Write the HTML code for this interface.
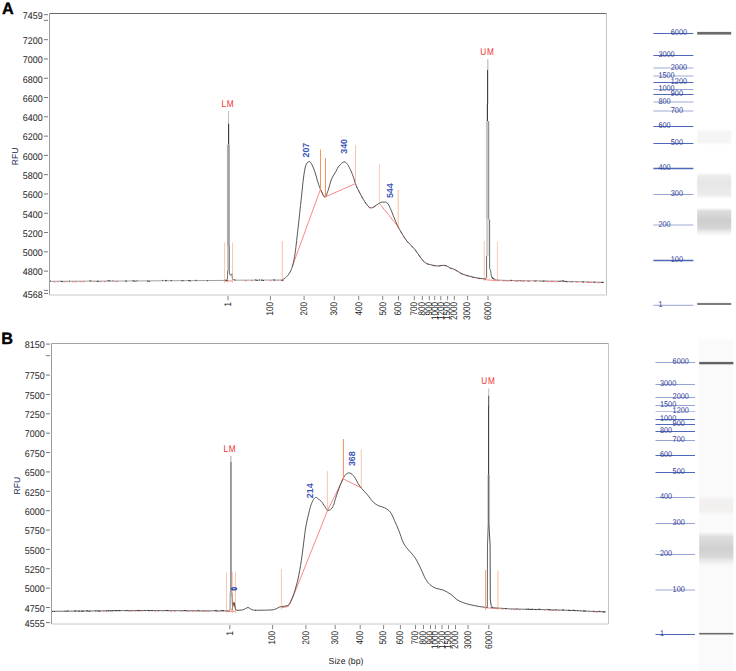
<!DOCTYPE html><html><head><meta charset="utf-8"><style>
html,body{margin:0;padding:0;background:#fff;}
body{width:736px;height:671px;overflow:hidden;position:relative;}
svg{position:absolute;left:0;top:0;display:block;}
text{font-family:"Liberation Sans", sans-serif;text-rendering:geometricPrecision;}
.yl{font-size:9.7px;fill:#222;}
.xl{font-size:9.6px;fill:#222;}
.rfu{font-size:8.6px;fill:#15234f;}
.pk{font-size:8.9px;font-weight:bold;fill:#3a54b8;}
.mk{font-size:9.8px;fill:#f03030;letter-spacing:0.9px;}
.gl{font-size:8.3px;fill:#2c3a94;}
.pl{font-size:16.3px;font-weight:bold;fill:#000;stroke:#000;stroke-width:0.35px;}
</style></head><body>
<svg width="736" height="671" viewBox="0 0 736 671">
<rect width="736" height="671" fill="#fff"/>
<text x="2.1" y="13.6" class="pl">A</text>
<text x="1.3" y="344.3" class="pl">B</text>
<line x1="49.5" y1="13.5" x2="606.5" y2="13.5" stroke="#6a6a6a" stroke-width="1.2"/>
<line x1="606.5" y1="13.5" x2="606.5" y2="295" stroke="#c4c4c4" stroke-width="1"/>
<line x1="49.5" y1="295" x2="606.5" y2="295" stroke="#c8c8c8" stroke-width="1"/>
<line x1="49.5" y1="13.5" x2="49.5" y2="295" stroke="#9c9c9c" stroke-width="1"/>
<line x1="43.9" y1="14.7" x2="48" y2="14.7" stroke="#666" stroke-width="0.9"/>
<text transform="translate(42.6 19) scale(0.92 1)" text-anchor="end" class="yl">7459</text>
<line x1="43.9" y1="39.68" x2="48" y2="39.68" stroke="#666" stroke-width="0.9"/>
<text transform="translate(42.6 43.98) scale(0.92 1)" text-anchor="end" class="yl">7200</text>
<line x1="43.9" y1="58.96" x2="48" y2="58.96" stroke="#666" stroke-width="0.9"/>
<text transform="translate(42.6 63.26) scale(0.92 1)" text-anchor="end" class="yl">7000</text>
<line x1="43.9" y1="78.25" x2="48" y2="78.25" stroke="#666" stroke-width="0.9"/>
<text transform="translate(42.6 82.55) scale(0.92 1)" text-anchor="end" class="yl">6800</text>
<line x1="43.9" y1="97.53" x2="48" y2="97.53" stroke="#666" stroke-width="0.9"/>
<text transform="translate(42.6 101.83) scale(0.92 1)" text-anchor="end" class="yl">6600</text>
<line x1="43.9" y1="116.82" x2="48" y2="116.82" stroke="#666" stroke-width="0.9"/>
<text transform="translate(42.6 121.12) scale(0.92 1)" text-anchor="end" class="yl">6400</text>
<line x1="43.9" y1="136.11" x2="48" y2="136.11" stroke="#666" stroke-width="0.9"/>
<text transform="translate(42.6 140.41) scale(0.92 1)" text-anchor="end" class="yl">6200</text>
<line x1="43.9" y1="155.39" x2="48" y2="155.39" stroke="#666" stroke-width="0.9"/>
<text transform="translate(42.6 159.69) scale(0.92 1)" text-anchor="end" class="yl">6000</text>
<line x1="43.9" y1="174.68" x2="48" y2="174.68" stroke="#666" stroke-width="0.9"/>
<text transform="translate(42.6 178.98) scale(0.92 1)" text-anchor="end" class="yl">5800</text>
<line x1="43.9" y1="193.96" x2="48" y2="193.96" stroke="#666" stroke-width="0.9"/>
<text transform="translate(42.6 198.26) scale(0.92 1)" text-anchor="end" class="yl">5600</text>
<line x1="43.9" y1="213.25" x2="48" y2="213.25" stroke="#666" stroke-width="0.9"/>
<text transform="translate(42.6 217.55) scale(0.92 1)" text-anchor="end" class="yl">5400</text>
<line x1="43.9" y1="232.54" x2="48" y2="232.54" stroke="#666" stroke-width="0.9"/>
<text transform="translate(42.6 236.84) scale(0.92 1)" text-anchor="end" class="yl">5200</text>
<line x1="43.9" y1="251.82" x2="48" y2="251.82" stroke="#666" stroke-width="0.9"/>
<text transform="translate(42.6 256.12) scale(0.92 1)" text-anchor="end" class="yl">5000</text>
<line x1="43.9" y1="271.11" x2="48" y2="271.11" stroke="#666" stroke-width="0.9"/>
<text transform="translate(42.6 275.41) scale(0.92 1)" text-anchor="end" class="yl">4800</text>
<line x1="43.9" y1="293.48" x2="48" y2="293.48" stroke="#666" stroke-width="0.9"/>
<text transform="translate(42.6 297.78) scale(0.92 1)" text-anchor="end" class="yl">4568</text>
<line x1="43.9" y1="20.39" x2="48" y2="20.39" stroke="#666" stroke-width="0.9"/>
<line x1="43.9" y1="290.39" x2="48" y2="290.39" stroke="#666" stroke-width="0.9"/>
<line x1="228" y1="296" x2="228" y2="300.2" stroke="#777" stroke-width="0.9"/>
<text transform="translate(230.8 302) rotate(-90) scale(0.845 1)" text-anchor="end" class="xl">1</text>
<line x1="270.4" y1="296" x2="270.4" y2="300.2" stroke="#777" stroke-width="0.9"/>
<text transform="translate(273.2 302) rotate(-90) scale(0.845 1)" text-anchor="end" class="xl">100</text>
<line x1="304.1" y1="296" x2="304.1" y2="300.2" stroke="#777" stroke-width="0.9"/>
<text transform="translate(306.9 302) rotate(-90) scale(0.845 1)" text-anchor="end" class="xl">200</text>
<line x1="334.3" y1="296" x2="334.3" y2="300.2" stroke="#777" stroke-width="0.9"/>
<text transform="translate(337.1 302) rotate(-90) scale(0.845 1)" text-anchor="end" class="xl">300</text>
<line x1="358.7" y1="296" x2="358.7" y2="300.2" stroke="#777" stroke-width="0.9"/>
<text transform="translate(361.5 302) rotate(-90) scale(0.845 1)" text-anchor="end" class="xl">400</text>
<line x1="382.7" y1="296" x2="382.7" y2="300.2" stroke="#777" stroke-width="0.9"/>
<text transform="translate(385.5 302) rotate(-90) scale(0.845 1)" text-anchor="end" class="xl">500</text>
<line x1="398.5" y1="296" x2="398.5" y2="300.2" stroke="#777" stroke-width="0.9"/>
<text transform="translate(401.3 302) rotate(-90) scale(0.845 1)" text-anchor="end" class="xl">600</text>
<line x1="414.3" y1="296" x2="414.3" y2="300.2" stroke="#777" stroke-width="0.9"/>
<text transform="translate(417.1 302) rotate(-90) scale(0.845 1)" text-anchor="end" class="xl">700</text>
<line x1="422.3" y1="296" x2="422.3" y2="300.2" stroke="#777" stroke-width="0.9"/>
<text transform="translate(425.1 302) rotate(-90) scale(0.845 1)" text-anchor="end" class="xl">800</text>
<line x1="429.3" y1="296" x2="429.3" y2="300.2" stroke="#777" stroke-width="0.9"/>
<text transform="translate(432.1 302) rotate(-90) scale(0.845 1)" text-anchor="end" class="xl">900</text>
<line x1="434.7" y1="296" x2="434.7" y2="300.2" stroke="#777" stroke-width="0.9"/>
<text transform="translate(437.5 302) rotate(-90) scale(0.845 1)" text-anchor="end" class="xl">1000</text>
<line x1="440.8" y1="296" x2="440.8" y2="300.2" stroke="#777" stroke-width="0.9"/>
<text transform="translate(443.6 302) rotate(-90) scale(0.845 1)" text-anchor="end" class="xl">1200</text>
<line x1="447.6" y1="296" x2="447.6" y2="300.2" stroke="#777" stroke-width="0.9"/>
<text transform="translate(450.4 302) rotate(-90) scale(0.845 1)" text-anchor="end" class="xl">1500</text>
<line x1="454.3" y1="296" x2="454.3" y2="300.2" stroke="#777" stroke-width="0.9"/>
<text transform="translate(457.1 302) rotate(-90) scale(0.845 1)" text-anchor="end" class="xl">2000</text>
<line x1="467.6" y1="296" x2="467.6" y2="300.2" stroke="#777" stroke-width="0.9"/>
<text transform="translate(470.4 302) rotate(-90) scale(0.845 1)" text-anchor="end" class="xl">3000</text>
<line x1="488" y1="296" x2="488" y2="300.2" stroke="#777" stroke-width="0.9"/>
<text transform="translate(490.8 302) rotate(-90) scale(0.845 1)" text-anchor="end" class="xl">6000</text>
<text transform="translate(17.8 156.5) rotate(-90)" text-anchor="middle" class="rfu">RFU</text>
<line x1="51.5" y1="343.5" x2="608.5" y2="343.5" stroke="#a2a2a2" stroke-width="1.2"/>
<line x1="608.5" y1="343.5" x2="608.5" y2="624" stroke="#c4c4c4" stroke-width="1"/>
<line x1="51.5" y1="624" x2="608.5" y2="624" stroke="#c8c8c8" stroke-width="1"/>
<line x1="51.5" y1="343.5" x2="51.5" y2="624" stroke="#9c9c9c" stroke-width="1"/>
<line x1="45.9" y1="344.1" x2="50" y2="344.1" stroke="#666" stroke-width="0.9"/>
<text transform="translate(44.6 348.4) scale(0.92 1)" text-anchor="end" class="yl">8150</text>
<line x1="45.9" y1="375.09" x2="50" y2="375.09" stroke="#666" stroke-width="0.9"/>
<text transform="translate(44.6 379.39) scale(0.92 1)" text-anchor="end" class="yl">7750</text>
<line x1="45.9" y1="394.46" x2="50" y2="394.46" stroke="#666" stroke-width="0.9"/>
<text transform="translate(44.6 398.76) scale(0.92 1)" text-anchor="end" class="yl">7500</text>
<line x1="45.9" y1="413.82" x2="50" y2="413.82" stroke="#666" stroke-width="0.9"/>
<text transform="translate(44.6 418.12) scale(0.92 1)" text-anchor="end" class="yl">7250</text>
<line x1="45.9" y1="433.19" x2="50" y2="433.19" stroke="#666" stroke-width="0.9"/>
<text transform="translate(44.6 437.49) scale(0.92 1)" text-anchor="end" class="yl">7000</text>
<line x1="45.9" y1="452.56" x2="50" y2="452.56" stroke="#666" stroke-width="0.9"/>
<text transform="translate(44.6 456.86) scale(0.92 1)" text-anchor="end" class="yl">6750</text>
<line x1="45.9" y1="471.93" x2="50" y2="471.93" stroke="#666" stroke-width="0.9"/>
<text transform="translate(44.6 476.23) scale(0.92 1)" text-anchor="end" class="yl">6500</text>
<line x1="45.9" y1="491.29" x2="50" y2="491.29" stroke="#666" stroke-width="0.9"/>
<text transform="translate(44.6 495.59) scale(0.92 1)" text-anchor="end" class="yl">6250</text>
<line x1="45.9" y1="510.66" x2="50" y2="510.66" stroke="#666" stroke-width="0.9"/>
<text transform="translate(44.6 514.96) scale(0.92 1)" text-anchor="end" class="yl">6000</text>
<line x1="45.9" y1="530.03" x2="50" y2="530.03" stroke="#666" stroke-width="0.9"/>
<text transform="translate(44.6 534.33) scale(0.92 1)" text-anchor="end" class="yl">5750</text>
<line x1="45.9" y1="549.4" x2="50" y2="549.4" stroke="#666" stroke-width="0.9"/>
<text transform="translate(44.6 553.7) scale(0.92 1)" text-anchor="end" class="yl">5500</text>
<line x1="45.9" y1="568.76" x2="50" y2="568.76" stroke="#666" stroke-width="0.9"/>
<text transform="translate(44.6 573.06) scale(0.92 1)" text-anchor="end" class="yl">5250</text>
<line x1="45.9" y1="588.13" x2="50" y2="588.13" stroke="#666" stroke-width="0.9"/>
<text transform="translate(44.6 592.43) scale(0.92 1)" text-anchor="end" class="yl">5000</text>
<line x1="45.9" y1="607.5" x2="50" y2="607.5" stroke="#666" stroke-width="0.9"/>
<text transform="translate(44.6 611.8) scale(0.92 1)" text-anchor="end" class="yl">4750</text>
<line x1="45.9" y1="622.6" x2="50" y2="622.6" stroke="#666" stroke-width="0.9"/>
<text transform="translate(44.6 626.9) scale(0.92 1)" text-anchor="end" class="yl">4555</text>
<line x1="45.9" y1="355.72" x2="50" y2="355.72" stroke="#666" stroke-width="0.9"/>
<line x1="229.8" y1="625" x2="229.8" y2="629.2" stroke="#777" stroke-width="0.9"/>
<text transform="translate(232.6 631) rotate(-90) scale(0.845 1)" text-anchor="end" class="xl">1</text>
<line x1="272.6" y1="625" x2="272.6" y2="629.2" stroke="#777" stroke-width="0.9"/>
<text transform="translate(275.4 631) rotate(-90) scale(0.845 1)" text-anchor="end" class="xl">100</text>
<line x1="305.9" y1="625" x2="305.9" y2="629.2" stroke="#777" stroke-width="0.9"/>
<text transform="translate(308.7 631) rotate(-90) scale(0.845 1)" text-anchor="end" class="xl">200</text>
<line x1="335.2" y1="625" x2="335.2" y2="629.2" stroke="#777" stroke-width="0.9"/>
<text transform="translate(338 631) rotate(-90) scale(0.845 1)" text-anchor="end" class="xl">300</text>
<line x1="360.2" y1="625" x2="360.2" y2="629.2" stroke="#777" stroke-width="0.9"/>
<text transform="translate(363 631) rotate(-90) scale(0.845 1)" text-anchor="end" class="xl">400</text>
<line x1="383.6" y1="625" x2="383.6" y2="629.2" stroke="#777" stroke-width="0.9"/>
<text transform="translate(386.4 631) rotate(-90) scale(0.845 1)" text-anchor="end" class="xl">500</text>
<line x1="400.4" y1="625" x2="400.4" y2="629.2" stroke="#777" stroke-width="0.9"/>
<text transform="translate(403.2 631) rotate(-90) scale(0.845 1)" text-anchor="end" class="xl">600</text>
<line x1="415.5" y1="625" x2="415.5" y2="629.2" stroke="#777" stroke-width="0.9"/>
<text transform="translate(418.3 631) rotate(-90) scale(0.845 1)" text-anchor="end" class="xl">700</text>
<line x1="423.5" y1="625" x2="423.5" y2="629.2" stroke="#777" stroke-width="0.9"/>
<text transform="translate(426.3 631) rotate(-90) scale(0.845 1)" text-anchor="end" class="xl">800</text>
<line x1="430.5" y1="625" x2="430.5" y2="629.2" stroke="#777" stroke-width="0.9"/>
<text transform="translate(433.3 631) rotate(-90) scale(0.845 1)" text-anchor="end" class="xl">900</text>
<line x1="435.4" y1="625" x2="435.4" y2="629.2" stroke="#777" stroke-width="0.9"/>
<text transform="translate(438.2 631) rotate(-90) scale(0.845 1)" text-anchor="end" class="xl">1000</text>
<line x1="442" y1="625" x2="442" y2="629.2" stroke="#777" stroke-width="0.9"/>
<text transform="translate(444.8 631) rotate(-90) scale(0.845 1)" text-anchor="end" class="xl">1200</text>
<line x1="448.5" y1="625" x2="448.5" y2="629.2" stroke="#777" stroke-width="0.9"/>
<text transform="translate(451.3 631) rotate(-90) scale(0.845 1)" text-anchor="end" class="xl">1500</text>
<line x1="455.5" y1="625" x2="455.5" y2="629.2" stroke="#777" stroke-width="0.9"/>
<text transform="translate(458.3 631) rotate(-90) scale(0.845 1)" text-anchor="end" class="xl">2000</text>
<line x1="468" y1="625" x2="468" y2="629.2" stroke="#777" stroke-width="0.9"/>
<text transform="translate(470.8 631) rotate(-90) scale(0.845 1)" text-anchor="end" class="xl">3000</text>
<line x1="488.8" y1="625" x2="488.8" y2="629.2" stroke="#777" stroke-width="0.9"/>
<text transform="translate(491.6 631) rotate(-90) scale(0.845 1)" text-anchor="end" class="xl">6000</text>
<text transform="translate(20 485.6) rotate(-90)" text-anchor="middle" class="rfu">RFU</text>
<text x="346" y="664.3" text-anchor="middle" style="font-size:8.7px;fill:#222">Size (bp)</text>
<g fill="none" stroke="#f55050" stroke-width="0.75" opacity="0.9">
<polyline points="224.6,281 232.4,281"/>
<polyline points="292.3,266.5 320.3,189.7 324.8,197.1 355.2,183.7"/>
<polyline points="379.4,203.4 398,226.6"/>
<polyline points="484.4,279.6 497.4,280.8"/>
</g>
<g fill="none" stroke="#f55050" stroke-width="0.9" stroke-dasharray="2.5 3.5" opacity="0.85" transform="translate(0 0.35)">
<path d="M356.1 185.5 C356.62 186.53 357.95 189.32 359.2 191.7 C360.45 194.08 362.12 197.4 363.6 199.8 C365.08 202.2 366.75 204.75 368.1 206.1 C369.45 207.45 370.35 208.05 371.7 207.9 C373.05 207.75 375.45 205.65 376.2 205.2"/>
<path d="M397.6 225.7 C398.35 227.05 400.57 231.27 402.1 233.8 C403.63 236.33 405.18 238.85 406.8 240.9 C408.42 242.95 410.28 244.45 411.8 246.1 C413.32 247.75 414.65 249.22 415.9 250.8 C417.15 252.38 418.17 254.02 419.3 255.6 C420.43 257.18 421.47 258.98 422.7 260.3 C423.93 261.62 425.12 262.7 426.7 263.5 C428.28 264.3 430.38 264.68 432.2 265.1 C434.02 265.52 436.13 265.93 437.6 266 C439.07 266.07 439.63 265.58 441 265.5 C442.37 265.42 444.33 265.12 445.8 265.5 C447.27 265.88 448.22 267.08 449.8 267.8 C451.38 268.52 453.25 268.78 455.3 269.8 C457.35 270.82 459.83 272.87 462.1 273.9 C464.37 274.93 466.63 275.37 468.9 276 C471.17 276.63 473.22 277.23 475.7 277.7 C478.18 278.17 482.12 278.65 483.8 278.8 C485.48 278.95 485.47 278.63 485.8 278.6"/>
<polyline points="491.7,277.7 494.5,279.3 497.4,280 505,280.4 560,281.2 604,282.3"/>
</g>
<g fill="none" stroke="#383838" stroke-width="0.85" stroke-linejoin="round">
<path d="M282.2 280 C282.95 279.43 285.2 278.3 286.7 276.6 C288.2 274.9 289.88 273.17 291.2 269.8 C292.52 266.43 293.48 263.12 294.6 256.4 C295.72 249.68 296.78 239.2 297.9 229.5 C299.02 219.8 300.37 206.78 301.3 198.2 C302.23 189.62 302.77 183.42 303.5 178 C304.23 172.58 304.83 168.42 305.7 165.7 C306.57 162.98 307.77 162.07 308.7 161.7 C309.63 161.33 310.3 161.9 311.3 163.5 C312.3 165.1 313.58 168.13 314.7 171.3 C315.82 174.47 317 179.43 318 182.5 C319 185.57 319.57 187.27 320.7 189.7 C321.83 192.13 323.57 196.98 324.8 197.1 C326.03 197.22 326.98 193.38 328.1 190.4 C329.22 187.42 330.18 182.38 331.5 179.2 C332.82 176.02 334.75 173.5 336 171.3 C337.25 169.1 337.68 167.57 339 166 C340.32 164.43 342.48 162.17 343.9 161.9 C345.32 161.63 346.3 162.85 347.5 164.4 C348.7 165.95 350.05 168.88 351.1 171.2 C352.15 173.52 352.97 175.92 353.8 178.3 C354.63 180.68 355.2 183.27 356.1 185.5 C357 187.73 357.95 189.32 359.2 191.7 C360.45 194.08 362.12 197.4 363.6 199.8 C365.08 202.2 366.75 204.75 368.1 206.1 C369.45 207.45 370.35 208.05 371.7 207.9 C373.05 207.75 374.72 206.1 376.2 205.2 C377.68 204.3 379.27 203.02 380.6 202.5 C381.93 201.98 383.08 202.02 384.2 202.1 C385.32 202.18 386.25 201.9 387.3 203 C388.35 204.1 389.37 206.25 390.5 208.7 C391.63 211.15 392.92 214.87 394.1 217.7 C395.28 220.53 396.27 223.02 397.6 225.7 C398.93 228.38 400.57 231.27 402.1 233.8 C403.63 236.33 405.18 238.85 406.8 240.9 C408.42 242.95 410.28 244.45 411.8 246.1 C413.32 247.75 414.65 249.22 415.9 250.8 C417.15 252.38 418.17 254.02 419.3 255.6 C420.43 257.18 421.47 258.98 422.7 260.3 C423.93 261.62 425.12 262.7 426.7 263.5 C428.28 264.3 430.38 264.68 432.2 265.1 C434.02 265.52 436.13 265.93 437.6 266 C439.07 266.07 439.63 265.58 441 265.5 C442.37 265.42 444.33 265.12 445.8 265.5 C447.27 265.88 448.22 267.08 449.8 267.8 C451.38 268.52 453.25 268.78 455.3 269.8 C457.35 270.82 459.83 272.87 462.1 273.9 C464.37 274.93 466.63 275.37 468.9 276 C471.17 276.63 473.22 277.23 475.7 277.7 C478.18 278.17 482.12 278.65 483.8 278.8 C485.48 278.95 485.47 278.63 485.8 278.6"/>
</g>
<polyline fill="none" stroke="#8f8f8f" stroke-width="0.85" points="50,281.3 120,281 200,280.6 226.5,280.4"/>
<path fill="none" stroke="#f55050" stroke-width="0.8" opacity="0.75" d="M53 281.89 L55.5 281.88 M57.5 281.87 L58.5 281.86 M63.5 281.84 L65.5 281.83 M66.5 281.83 L67.5 281.83 M72 281.81 L74.5 281.8 M75 281.79 L77.5 281.78 M79.5 281.77 L81.5 281.77 M82.5 281.76 L85 281.75 M93.5 281.71 L95 281.71 M99.5 281.69 L102 281.68 M104 281.67 L106 281.66 M115 281.62 L118 281.61"/>
<path fill="none" stroke="#333" stroke-width="0.85" d="M50 281.3 L51 281 M60.5 281.25 L63 281.74 M69 281.52 L70 280.91 M89.5 280.63 L91.5 281.12 M96.5 281.4 L99 281.39 M107.5 280.55 L110.5 281.04 M112.5 281.03 L113.5 280.73 M125 281.28 L127 280.96 M132.5 280.64 L135.5 281.42 M136.5 280.92 L137.5 280.91 M147 281.17 L150 281.35 M162 280.29 L163 280.49 M165 280.48 L167 280.76 M170.5 280.45 L172 280.74 M181.5 280.69 L183.5 280.68 M188 280.36 L191 281.15 M195 280.12 L196.5 280.62 M207 280.55 L208 281.04 M225 279.91 L228 280.9"/>
<polyline fill="none" stroke="#8f8f8f" stroke-width="0.85" points="232.5,279.6 236,280.2 260,280.1 282.2,280"/>
<path fill="none" stroke="#f55050" stroke-width="0.8" opacity="0.75" d="M244.5 280.76 L247 280.75 M251 280.74 L253 280.73 M269.5 280.66 L271.5 280.65 M277.5 280.62 L279 280.61"/>
<path fill="none" stroke="#333" stroke-width="0.85" d="M234 279.86 L235.5 280.11 M255 279.82 L258 280.61 M259 279.8 L260 280.1 M261 280.1 L264 280.58 M273 279.74 L275.5 280.33 M281 280.31 L283.5 280.5"/>
<polyline fill="none" stroke="#8f8f8f" stroke-width="0.85" points="491.7,277.7 494.5,279.3 497.4,280 505,280.4 560,281.2 604,282.3"/>
<path fill="none" stroke="#f55050" stroke-width="0.8" opacity="0.75" d="M502.2 280.85 L503.7 280.93 M505.7 281.01 L508.7 281.05 M514.2 281.13 L515.2 281.15 M516.2 281.16 L519.2 281.21 M522.7 281.26 L525.2 281.29 M527.2 281.32 L530.2 281.37 M546.7 281.61 L548.7 281.64 M549.2 281.64 L552.2 281.69 M553.2 281.7 L555.2 281.73 M555.7 281.74 L557.2 281.76 M569.2 282.03 L570.2 282.06 M577.2 282.23 L578.7 282.27 M586.2 282.46 L588.7 282.52 M589.2 282.53 L592.2 282.61 M596.7 282.72 L599.7 282.79"/>
<path fill="none" stroke="#333" stroke-width="0.85" d="M491.7 277.4 L494.7 279.35 M510.7 280.18 L512.2 280.5 M519.7 280.61 L520.7 280.93 M535.2 280.84 L536.7 280.86 M542.2 281.24 L544.7 280.98 M558.7 281.18 L559.7 281.5 M560.2 281.2 L561.2 281.23 M561.7 280.74 L564.2 281 M564.7 281.32 L567.7 281.89 M571.7 281.79 L572.7 282.02 M582.7 281.77 L584.2 282.11 M593.7 282.04 L595.2 282.38 M601.2 282.53 L603.7 282.29"/>
<line x1="228.5" y1="111" x2="228.5" y2="124" stroke="#bdbdbd" stroke-width="1"/>
<line x1="228.6" y1="123.8" x2="228.6" y2="144.8" stroke="#333" stroke-width="1.1"/>
<rect x="226.9" y="144.6" width="3.1" height="101.6" fill="#b0b0b0"/>
<line x1="228.5" y1="144.6" x2="228.5" y2="246" stroke="#9c9c9c" stroke-width="0.8"/>
<rect x="227.2" y="246" width="1.6" height="25" fill="#bababa"/>
<polyline fill="none" stroke="#4a4a4a" stroke-width="0.8" points="229.3,246 229.3,273 230.4,275.3 231.9,273.8 232.3,278.3 233,279.8"/>
<polyline fill="none" stroke="#4a4a4a" stroke-width="0.8" points="226.4,280.3 227.5,279 227.6,270.8"/>
<line x1="487.8" y1="59.2" x2="487.8" y2="70" stroke="#bcbcbc" stroke-width="1.2"/>
<line x1="487.6" y1="69.9" x2="487.6" y2="104" stroke="#3a3a3a" stroke-width="1.1"/>
<line x1="487.4" y1="103.9" x2="487.4" y2="121.3" stroke="#333" stroke-width="1.1"/>
<rect x="485.9" y="121.1" width="2.1" height="98.5" fill="#c6c6c6"/>
<rect x="488" y="121.1" width="1.25" height="98.5" fill="#939393"/>
<rect x="486.2" y="219.6" width="2.4" height="36.1" fill="#cdcdcd"/>
<polyline fill="none" stroke="#444" stroke-width="0.8" points="489.6,219.6 489.6,268.4 490.7,270.9 491.3,276 492.5,278"/>
<polyline fill="none" stroke="#444" stroke-width="0.8" points="485.8,278.6 486.6,277.8 486.6,255.7"/>
<line x1="224.6" y1="242.6" x2="224.6" y2="282.8" stroke="#f5925e" stroke-width="1" opacity="0.5"/>
<line x1="232.5" y1="242.6" x2="232.5" y2="282.8" stroke="#f5925e" stroke-width="1" opacity="0.5"/>
<line x1="282.3" y1="241" x2="282.3" y2="281.5" stroke="#f5925e" stroke-width="1" opacity="0.55"/>
<line x1="320.5" y1="149.6" x2="320.5" y2="190" stroke="#f5925e" stroke-width="1" opacity="1"/>
<line x1="325.5" y1="157.8" x2="325.5" y2="197" stroke="#f5925e" stroke-width="1" opacity="1"/>
<line x1="355.5" y1="145.2" x2="355.5" y2="184" stroke="#f5925e" stroke-width="1" opacity="0.55"/>
<line x1="379.4" y1="164" x2="379.4" y2="202.8" stroke="#f5925e" stroke-width="1" opacity="0.45"/>
<line x1="398.2" y1="190" x2="398.2" y2="228.6" stroke="#f5925e" stroke-width="1" opacity="0.6"/>
<line x1="484.3" y1="240.9" x2="484.3" y2="281.2" stroke="#f5925e" stroke-width="1" opacity="0.5"/>
<line x1="497.4" y1="241.9" x2="497.4" y2="281.2" stroke="#f5925e" stroke-width="1" opacity="0.45"/>
<text transform="translate(228 106.9) scale(0.84 1)" text-anchor="middle" class="mk">LM</text>
<text transform="translate(487.4 55.3) scale(0.84 1)" text-anchor="middle" class="mk">UM</text>
<text transform="translate(309 150.1) rotate(-90)" text-anchor="middle" class="pk">207</text>
<text transform="translate(347.3 146.4) rotate(-90)" text-anchor="middle" class="pk">340</text>
<text transform="translate(393.4 190.7) rotate(-90)" text-anchor="middle" class="pk">544</text>
<g fill="none" stroke="#f55050" stroke-width="0.75" opacity="0.9">
<polyline points="226.5,611.3 235.5,611.3"/>
<polyline points="281.4,607.8 288,606.5 295.4,591 327.6,510.5 343.2,478.9 361.1,487.7"/>
<polyline points="485.5,607.8 497.9,608.5"/>
</g>
<g fill="none" stroke="#383838" stroke-width="0.85" stroke-linejoin="round">
<path d="M255 610.3 C257.5 610.25 266.63 610.18 270 610 C273.37 609.82 273.6 609.7 275.2 609.2 C276.8 608.7 278.3 607.47 279.6 607 C280.9 606.53 281.52 606.73 283 606.4 C284.48 606.07 287.08 606.03 288.5 605 C289.92 603.97 290.58 602.1 291.5 600.2 C292.42 598.3 293.22 595.97 294 593.6 C294.78 591.23 295.53 588.43 296.2 586 C296.87 583.57 297.42 581.58 298 579 C298.58 576.42 299.13 573.63 299.7 570.5 C300.27 567.37 300.87 563.78 301.4 560.2 C301.93 556.62 302.4 552.87 302.9 549 C303.4 545.13 303.95 540.5 304.4 537 C304.85 533.5 305.13 530.83 305.6 528 C306.07 525.17 306.57 522.87 307.2 520 C307.83 517.13 308.77 513.32 309.4 510.8 C310.03 508.28 310.3 506.82 311 504.9 C311.7 502.98 312.78 500.55 313.6 499.3 C314.42 498.05 315.13 497.48 315.9 497.4 C316.67 497.32 317.27 498.1 318.2 498.8 C319.13 499.5 320.7 500.77 321.5 501.6 C322.3 502.43 322.12 502.47 323 503.8 C323.88 505.13 325.97 508.48 326.8 509.6 C327.63 510.72 327.25 510.6 328 510.5 C328.75 510.4 330.3 510.08 331.3 509 C332.3 507.92 333.3 505.73 334 504 C334.7 502.27 334.47 501.73 335.5 498.6 C336.53 495.47 338.62 489.08 340.2 485.2 C341.78 481.32 343.4 477.33 345 475.3 C346.6 473.27 348.25 472.77 349.8 473 C351.35 473.23 352.88 474.9 354.3 476.7 C355.72 478.5 357.02 481.77 358.3 483.8 C359.58 485.83 360.43 487.02 362 488.9 C363.57 490.78 365.82 492.88 367.7 495.1 C369.58 497.32 371.42 500.4 373.3 502.2 C375.18 504 377.12 504.97 379 505.9 C380.88 506.83 382.72 506.77 384.6 507.8 C386.48 508.83 388.65 509.97 390.3 512.1 C391.95 514.23 393.08 517.53 394.5 520.6 C395.92 523.67 397.38 526.93 398.8 530.5 C400.22 534.07 401.68 539.1 403 542 C404.32 544.9 405.2 545.92 406.7 547.9 C408.2 549.88 410.38 551.9 412 553.9 C413.62 555.9 414.92 557.4 416.4 559.9 C417.88 562.4 419.4 565.78 420.9 568.9 C422.4 572.02 423.9 575.98 425.4 578.6 C426.9 581.22 428.15 582.98 429.9 584.6 C431.65 586.22 433.67 587.38 435.9 588.3 C438.13 589.22 440.82 589.1 443.3 590.1 C445.78 591.1 448.55 592.73 450.8 594.3 C453.05 595.87 454.8 598.13 456.8 599.5 C458.8 600.87 460.55 601.63 462.8 602.5 C465.05 603.37 467.57 604.03 470.3 604.7 C473.03 605.37 476.6 606.05 479.2 606.5 C481.8 606.95 484.52 607.23 485.9 607.4 C487.28 607.57 487.23 607.48 487.5 607.5"/>
<path d="M232 610.5 C232.2 609.42 232.85 605.3 233.2 604 C233.55 602.7 233.8 602.37 234.1 602.7 C234.4 603.03 234.65 604.78 235 606 C235.35 607.22 235.37 609.3 236.2 610 C237.03 610.7 238.87 610.23 240 610.2 C241.13 610.17 242.08 610.07 243 609.8 C243.92 609.53 244.67 608.98 245.5 608.6 C246.33 608.22 247.17 607.47 248 607.5 C248.83 607.53 249.67 608.38 250.5 608.8 C251.33 609.22 252.08 609.75 253 610 C253.92 610.25 255.5 610.25 256 610.3"/>
</g>
<polyline fill="none" stroke="#555" stroke-width="0.85" points="52,611.3 140,610.5 200,610.8 229.5,610.9"/>
<path fill="none" stroke="#f55050" stroke-width="0.8" opacity="0.75" d="M103 611.44 L105 611.42 M129.5 611.2 L132.5 611.17 M134.5 611.15 L136.5 611.13 M141 611.11 L142.5 611.11 M154 611.17 L156.5 611.18 M162.5 611.21 L163.5 611.22 M170 611.25 L172 611.26 M174 611.27 L176 611.28 M180.5 611.3 L182.5 611.31 M187 611.34 L189.5 611.35 M191.5 611.36 L194 611.37 M195 611.38 L196.5 611.38 M201.5 611.41 L204.5 611.42 M205 611.42 L206.5 611.42 M207.5 611.43 L209.5 611.43 M219 611.46 L220.5 611.47 M225.5 611.49 L226.5 611.49"/>
<path fill="none" stroke="#333" stroke-width="0.85" d="M52 611.3 L53 611.59 M54 611.28 L55 611.77 M64.5 611.19 L65.5 611.18 M66.5 611.17 L68.5 610.85 M74 611.1 L76.5 610.78 M78 611.36 L80 611.05 M81 611.04 L84 611.31 M86 610.99 L88 610.67 M88.5 611.27 L90.5 611.45 M95 610.91 L96.5 610.9 M97.5 610.89 L100.5 611.36 M106 610.81 L107.5 611.1 M108 610.79 L109 610.78 M109.5 610.48 L111.5 611.06 M112 610.75 L113.5 610.74 M114.5 610.43 L117.5 610.7 M118 610.4 L120.5 610.68 M125.5 610.63 L127 610.62 M127.5 610.31 L128.5 611.1 M137 610.53 L140 610.8 M144.5 610.22 L145.5 610.83 M147.5 610.24 L150 610.85 M151 610.55 L153 610.56 M158 610.59 L159 611.1 M165.5 610.33 L168.5 610.64 M183.5 610.42 L186.5 610.73 M197.5 610.29 L199.5 611.1 M214.5 610.35 L217.5 611.16 M221 610.37 L224 610.88"/>
<polyline fill="none" stroke="#555" stroke-width="0.85" points="490.5,607.6 492.7,607.7 500,608.2 510,608.9 560,610 606,611.9"/>
<path fill="none" stroke="#f55050" stroke-width="0.8" opacity="0.75" d="M501 608.87 L504 609.08 M511 609.52 L512 609.54 M513 609.57 L515.5 609.62 M518.5 609.69 L520.5 609.73 M544.5 610.26 L545.5 610.28 M551 610.4 L554 610.47 M558 610.56 L560 610.6 M588 611.76 L589.5 611.82 M595.5 612.07 L598 612.17"/>
<path fill="none" stroke="#333" stroke-width="0.85" d="M505 608.55 L506.5 608.65 M516.5 608.74 L517.5 609.06 M526 609.25 L527.5 609.28 M528 609 L529.5 609.33 M530 609.64 L533 609.11 M534.5 609.44 L536.5 609.78 M538 609.22 L540.5 609.27 M547.5 609.23 L550.5 610.09 M555 609.89 L556.5 609.92 M562 610.08 L564 609.87 M568 610.33 L571 610.45 M572.5 610.02 L575.5 610.64 M577 610.4 L578 610.74 M580 610.33 L581 611.37 M583 610.95 L586 611.07 M593 611.06 L594.5 611.92 M598.5 611.29 L600.5 611.37 M602.5 612.06 L605 611.86"/>
<line x1="230.95" y1="462" x2="230.95" y2="592.8" stroke="#8c8c8c" stroke-width="1.7"/>
<line x1="230.9" y1="455.9" x2="230.9" y2="462" stroke="#b4b4b4" stroke-width="1.2"/>
<polyline fill="none" stroke="#7a7a7a" stroke-width="0.9" points="229.5,610.6 230.1,609.2 230.2,592.8"/>
<polyline fill="none" stroke="#5a4a40" stroke-width="0.9" points="231.9,592.8 232.2,598.5 232.5,606 233.2,605 234.1,602.6 234.8,605 235.3,609 236.2,610.2"/>
<line x1="488.7" y1="388.4" x2="488.7" y2="396" stroke="#bcbcbc" stroke-width="1"/>
<line x1="488.65" y1="395.8" x2="488.65" y2="405.7" stroke="#666" stroke-width="1.2"/>
<line x1="488.6" y1="405.5" x2="488.6" y2="474.8" stroke="#3a3a3a" stroke-width="1.1"/>
<line x1="488.6" y1="474.6" x2="488.6" y2="525.8" stroke="#707070" stroke-width="1.8"/>
<polyline fill="none" stroke="#4a4a4a" stroke-width="0.85" points="487.3,607.6 487.5,545 488.2,525.5"/>
<polyline fill="none" stroke="#3a3a3a" stroke-width="0.9" points="489.0,525.5 490.1,545 490.3,600 491.2,605.5 492.7,607.7"/>
<line x1="226.5" y1="572.2" x2="226.5" y2="612.8" stroke="#f5925e" stroke-width="1" opacity="0.5"/>
<line x1="232.4" y1="572.2" x2="232.4" y2="612.8" stroke="#f5925e" stroke-width="1" opacity="0.5"/>
<line x1="235.5" y1="572.2" x2="235.5" y2="612.8" stroke="#f5925e" stroke-width="1" opacity="0.5"/>
<line x1="281.4" y1="569" x2="281.4" y2="609.6" stroke="#f5925e" stroke-width="1" opacity="0.5"/>
<line x1="327.4" y1="471.1" x2="327.4" y2="510.7" stroke="#f5925e" stroke-width="1" opacity="0.5"/>
<line x1="343.4" y1="439" x2="343.4" y2="479.3" stroke="#f5925e" stroke-width="1" opacity="1"/>
<line x1="361.3" y1="449.2" x2="361.3" y2="489" stroke="#f5925e" stroke-width="1" opacity="0.5"/>
<line x1="485.5" y1="570" x2="485.5" y2="610" stroke="#f5925e" stroke-width="1" opacity="0.8"/>
<line x1="497.9" y1="570.4" x2="497.9" y2="610" stroke="#f5925e" stroke-width="1" opacity="0.6"/>
<ellipse cx="234.1" cy="588.7" rx="2.5" ry="1.1" fill="none" stroke="#3049b0" stroke-width="1.3"/>
<text transform="translate(230 452.3) scale(0.84 1)" text-anchor="middle" class="mk">LM</text>
<text transform="translate(488.4 383.8) scale(0.84 1)" text-anchor="middle" class="mk">UM</text>
<text transform="translate(313.4 490.8) rotate(-90)" text-anchor="middle" class="pk">214</text>
<text transform="translate(354.9 458.7) rotate(-90)" text-anchor="middle" class="pk">368</text>
<defs>
<linearGradient id="g0a" x1="0" y1="0" x2="0" y2="1"><stop offset="0" stop-color="#f5f5f5" stop-opacity="0"/><stop offset="0.2" stop-color="#f5f5f5" stop-opacity="1"/><stop offset="0.8" stop-color="#f5f5f5" stop-opacity="1"/><stop offset="1" stop-color="#f5f5f5" stop-opacity="0"/></linearGradient>
<linearGradient id="g0b" x1="0" y1="0" x2="0" y2="1"><stop offset="0" stop-color="#e8e8e8" stop-opacity="0"/><stop offset="0.15" stop-color="#e9e9e9" stop-opacity="0.9"/><stop offset="0.4" stop-color="#e6e6e6" stop-opacity="1"/><stop offset="0.85" stop-color="#eaeaea" stop-opacity="0.9"/><stop offset="1" stop-color="#eaeaea" stop-opacity="0"/></linearGradient>
<linearGradient id="g0c" x1="0" y1="0" x2="0" y2="1"><stop offset="0" stop-color="#dddddd" stop-opacity="0"/><stop offset="0.12" stop-color="#dcdcdc" stop-opacity="1"/><stop offset="0.45" stop-color="#cdcdcd" stop-opacity="1"/><stop offset="0.72" stop-color="#d6d6d6" stop-opacity="1"/><stop offset="1" stop-color="#e4e4e4" stop-opacity="0"/></linearGradient>
</defs>
<rect x="697.2" y="128.8" width="34" height="16.4" fill="url(#g0a)"/>
<rect x="697.2" y="172.4" width="34" height="26.4" fill="url(#g0b)"/>
<rect x="697.2" y="207.8" width="34" height="28.4" fill="url(#g0c)"/>
<rect x="697.2" y="31.9" width="34" height="2.7" fill="#6b6b6b"/>
<rect x="697.2" y="302.9" width="34" height="2.1" fill="#7e7e7e"/>
<line x1="653.4" y1="33.5" x2="693.4" y2="33.5" stroke="#5068b8" stroke-width="1" opacity="1"/>
<text transform="translate(670.8 35) scale(0.88 1)" class="gl">6000</text>
<line x1="653.4" y1="55.5" x2="693.4" y2="55.5" stroke="#5068b8" stroke-width="1" opacity="1"/>
<text transform="translate(658.4 57) scale(0.88 1)" class="gl">3000</text>
<line x1="653.4" y1="68" x2="693.4" y2="68" stroke="#5068b8" stroke-width="1" opacity="0.55"/>
<text transform="translate(670.8 69.5) scale(0.88 1)" class="gl">2000</text>
<line x1="653.4" y1="76" x2="693.4" y2="76" stroke="#5068b8" stroke-width="1" opacity="0.55"/>
<text transform="translate(658.4 77.5) scale(0.88 1)" class="gl">1500</text>
<line x1="653.4" y1="82.5" x2="693.4" y2="82.5" stroke="#5068b8" stroke-width="1" opacity="1"/>
<text transform="translate(670.8 84) scale(0.88 1)" class="gl">1200</text>
<line x1="653.4" y1="89.5" x2="693.4" y2="89.5" stroke="#5068b8" stroke-width="1" opacity="0.6"/>
<text transform="translate(658.4 91) scale(0.88 1)" class="gl">1000</text>
<line x1="653.4" y1="94.5" x2="693.4" y2="94.5" stroke="#5068b8" stroke-width="1" opacity="1"/>
<text transform="translate(670.8 96) scale(0.88 1)" class="gl">900</text>
<line x1="653.4" y1="102" x2="693.4" y2="102" stroke="#5068b8" stroke-width="1" opacity="0.55"/>
<text transform="translate(658.4 103.5) scale(0.88 1)" class="gl">800</text>
<line x1="653.4" y1="111" x2="693.4" y2="111" stroke="#5068b8" stroke-width="1" opacity="0.55"/>
<text transform="translate(670.8 112.5) scale(0.88 1)" class="gl">700</text>
<line x1="653.4" y1="126.5" x2="693.4" y2="126.5" stroke="#5068b8" stroke-width="1" opacity="1"/>
<text transform="translate(658.4 128) scale(0.88 1)" class="gl">600</text>
<line x1="653.4" y1="143.5" x2="693.4" y2="143.5" stroke="#5068b8" stroke-width="1" opacity="1"/>
<text transform="translate(670.8 145) scale(0.88 1)" class="gl">500</text>
<line x1="653.4" y1="168.5" x2="693.4" y2="168.5" stroke="#5068b8" stroke-width="1.3" opacity="1"/>
<text transform="translate(658.4 170) scale(0.88 1)" class="gl">400</text>
<line x1="653.4" y1="194.5" x2="693.4" y2="194.5" stroke="#5068b8" stroke-width="1" opacity="0.6"/>
<text transform="translate(670.8 196) scale(0.88 1)" class="gl">300</text>
<line x1="653.4" y1="225" x2="693.4" y2="225" stroke="#5068b8" stroke-width="1" opacity="0.55"/>
<text transform="translate(658.4 226.5) scale(0.88 1)" class="gl">200</text>
<line x1="653.4" y1="260.5" x2="693.4" y2="260.5" stroke="#5068b8" stroke-width="1.3" opacity="1"/>
<text transform="translate(670.8 262) scale(0.88 1)" class="gl">100</text>
<line x1="653.4" y1="305.3" x2="693.4" y2="305.3" stroke="#5068b8" stroke-width="1" opacity="0.6"/>
<text transform="translate(658.4 306.8) scale(0.88 1)" class="gl">1</text>
<defs>
<linearGradient id="g1a" x1="0" y1="0" x2="0" y2="1"><stop offset="0" stop-color="#f2efef" stop-opacity="0"/><stop offset="0.25" stop-color="#f2efef" stop-opacity="1"/><stop offset="0.75" stop-color="#f2efef" stop-opacity="1"/><stop offset="1" stop-color="#f2efef" stop-opacity="0"/></linearGradient>
<linearGradient id="g1c" x1="0" y1="0" x2="0" y2="1"><stop offset="0" stop-color="#e2e2e2" stop-opacity="0"/><stop offset="0.15" stop-color="#dedede" stop-opacity="1"/><stop offset="0.5" stop-color="#d0d0d0" stop-opacity="1"/><stop offset="0.72" stop-color="#d8d8d8" stop-opacity="1"/><stop offset="1" stop-color="#e8e8e8" stop-opacity="0"/></linearGradient>
</defs>
<rect x="699.2" y="339.5" width="34.2" height="331.5" fill="#fafafa"/>
<rect x="699.2" y="495.5" width="34.2" height="19.5" fill="url(#g1a)"/>
<rect x="699.2" y="531.5" width="34.2" height="35" fill="url(#g1c)"/>
<rect x="699.2" y="361.9" width="34.2" height="2.4" fill="#626262"/>
<rect x="699.2" y="632.9" width="34.2" height="1.6" fill="#6a6a6a"/>
<line x1="655.5" y1="362.5" x2="695" y2="362.5" stroke="#5068b8" stroke-width="1" opacity="0.6"/>
<text transform="translate(672.6 364) scale(0.88 1)" class="gl">6000</text>
<line x1="655.5" y1="384.5" x2="695" y2="384.5" stroke="#5068b8" stroke-width="1" opacity="0.6"/>
<text transform="translate(660 386) scale(0.88 1)" class="gl">3000</text>
<line x1="655.5" y1="397.5" x2="695" y2="397.5" stroke="#5068b8" stroke-width="1" opacity="0.6"/>
<text transform="translate(672.6 399) scale(0.88 1)" class="gl">2000</text>
<line x1="655.5" y1="405.5" x2="695" y2="405.5" stroke="#5068b8" stroke-width="1" opacity="0.6"/>
<text transform="translate(660 407) scale(0.88 1)" class="gl">1500</text>
<line x1="655.5" y1="411.5" x2="695" y2="411.5" stroke="#5068b8" stroke-width="1" opacity="0.4"/>
<text transform="translate(672.6 413) scale(0.88 1)" class="gl">1200</text>
<line x1="655.5" y1="419.5" x2="695" y2="419.5" stroke="#5068b8" stroke-width="1" opacity="1"/>
<text transform="translate(660 421) scale(0.88 1)" class="gl">1000</text>
<line x1="655.5" y1="424.5" x2="695" y2="424.5" stroke="#5068b8" stroke-width="1" opacity="1"/>
<text transform="translate(672.6 426) scale(0.88 1)" class="gl">900</text>
<line x1="655.5" y1="431.5" x2="695" y2="431.5" stroke="#5068b8" stroke-width="1" opacity="1"/>
<text transform="translate(660 433) scale(0.88 1)" class="gl">800</text>
<line x1="655.5" y1="440.5" x2="695" y2="440.5" stroke="#5068b8" stroke-width="1" opacity="0.6"/>
<text transform="translate(672.6 442) scale(0.88 1)" class="gl">700</text>
<line x1="655.5" y1="455.5" x2="695" y2="455.5" stroke="#5068b8" stroke-width="1" opacity="1"/>
<text transform="translate(660 457) scale(0.88 1)" class="gl">600</text>
<line x1="655.5" y1="472.5" x2="695" y2="472.5" stroke="#5068b8" stroke-width="1" opacity="1"/>
<text transform="translate(672.6 474) scale(0.88 1)" class="gl">500</text>
<line x1="655.5" y1="497.5" x2="695" y2="497.5" stroke="#5068b8" stroke-width="1" opacity="0.6"/>
<text transform="translate(660 499) scale(0.88 1)" class="gl">400</text>
<line x1="655.5" y1="523.5" x2="695" y2="523.5" stroke="#5068b8" stroke-width="1" opacity="0.6"/>
<text transform="translate(672.6 525) scale(0.88 1)" class="gl">300</text>
<line x1="655.5" y1="554.5" x2="695" y2="554.5" stroke="#5068b8" stroke-width="1" opacity="0.6"/>
<text transform="translate(660 556) scale(0.88 1)" class="gl">200</text>
<line x1="655.5" y1="590" x2="695" y2="590" stroke="#5068b8" stroke-width="1" opacity="0.55"/>
<text transform="translate(672.6 591.5) scale(0.88 1)" class="gl">100</text>
<line x1="655.5" y1="634.5" x2="695" y2="634.5" stroke="#5068b8" stroke-width="1" opacity="1"/>
<text transform="translate(660 636) scale(0.88 1)" class="gl">1</text>
</svg></body></html>
